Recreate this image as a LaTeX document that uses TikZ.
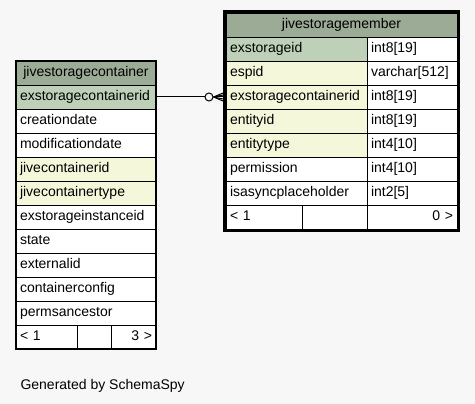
\documentclass[tikz,border=0pt]{standalone}
\usepackage{fontspec}
\setmainfont{Liberation Sans}
\usepackage{xcolor}
\usetikzlibrary{positioning}
\definecolor{headbg}{HTML}{9BAB96}
\definecolor{keybg}{HTML}{BED1B8}
\definecolor{fkbg}{HTML}{F4F7DA}
\definecolor{pagebg}{HTML}{F7F7F7}

\begin{document}
\begin{tikzpicture}[
  x=1pt, y=-1pt,
  cell/.style={draw, line width=0.9pt, anchor=north west, outer sep=0pt, inner xsep=4pt, inner ysep=0pt, minimum height=24pt, text height=10pt, text depth=3pt, align=left, font=\fontsize{14}{16}\selectfont},
  head/.style={cell, fill=headbg, align=center},
  frame/.style={draw, line width=3pt}
]
\fill[pagebg] (0,0) rectangle (475,404);
% jivestoragecontainer
\node[head, text width=132pt] (ctitle) at (16,61) {jivestoragecontainer};
\foreach \colname/\rowbg [count=\i] in {exstoragecontainerid/keybg, creationdate/white, modificationdate/white, jivecontainerid/fkbg, jivecontainertype/fkbg, exstorageinstanceid/white, state/white, externalid/white, containerconfig/white, permsancestor/white}
  \node[cell, fill=\rowbg, text width=132pt] (c\i) at (16,{85+24*(\i-1)}) {\colname};
\node[cell, fill=white, text width=53pt] (cprev) at (16,325) {< 1};
\node[cell, fill=white, text width=26pt, right=0pt of cprev] (cmid) {};
\node[cell, fill=white, text width=37pt, align=right, right=0pt of cmid] (cnext) {3 >};
\draw[line width=1.2pt] (ctitle.north west) rectangle (cnext.south east);
% jivestoragemember
\node[head, text width=223pt] (mtitle) at (226,13) {jivestoragemember};
\foreach \colname/\typ/\rowbg [count=\i] in {exstorageid/int8[19]/keybg, espid/varchar[512]/fkbg, exstoragecontainerid/int8[19]/fkbg, entityid/int8[19]/fkbg, entitytype/int4[10]/fkbg, permission/int4[10]/white, isasyncplaceholder/int2[5]/white}{
  \node[cell, fill=\rowbg, text width=133pt] (m\i) at (226,{37+24*(\i-1)}) {\colname};
  \node[cell, fill=white, text width=82pt, right=0pt of m\i] (t\i) {\typ};
}
\node[cell, fill=white, text width=68pt] (mprev) at (226,205) {< 1};
\node[cell, fill=white, text width=57pt, right=0pt of mprev] (mmid) {};
\node[cell, fill=white, text width=82pt, align=right, right=0pt of mmid] (mnext) {0 >};
\draw[frame] ([shift={(-1.5pt,1.5pt)}]mtitle.north west) rectangle ([shift={(1.5pt,-1.5pt)}]mnext.south east);
% relation
\draw[line width=1pt] (c1.east) -- ([xshift=-21pt]m3.west);
\node[circle, draw, line width=1pt, fill=pagebg, inner sep=0pt, minimum size=8pt] (odot) at ([xshift=-17pt]m3.west) {};
\foreach \dy in {-4,-2,0,2,4}
  \draw[line width=1pt] (odot.east) -- ([xshift=-3pt, yshift=\dy pt]m3.west);
\node[anchor=base west, font=\fontsize{14}{16}\selectfont] (credit) at (17,389) {Generated by SchemaSpy};
\end{tikzpicture}
\end{document}
